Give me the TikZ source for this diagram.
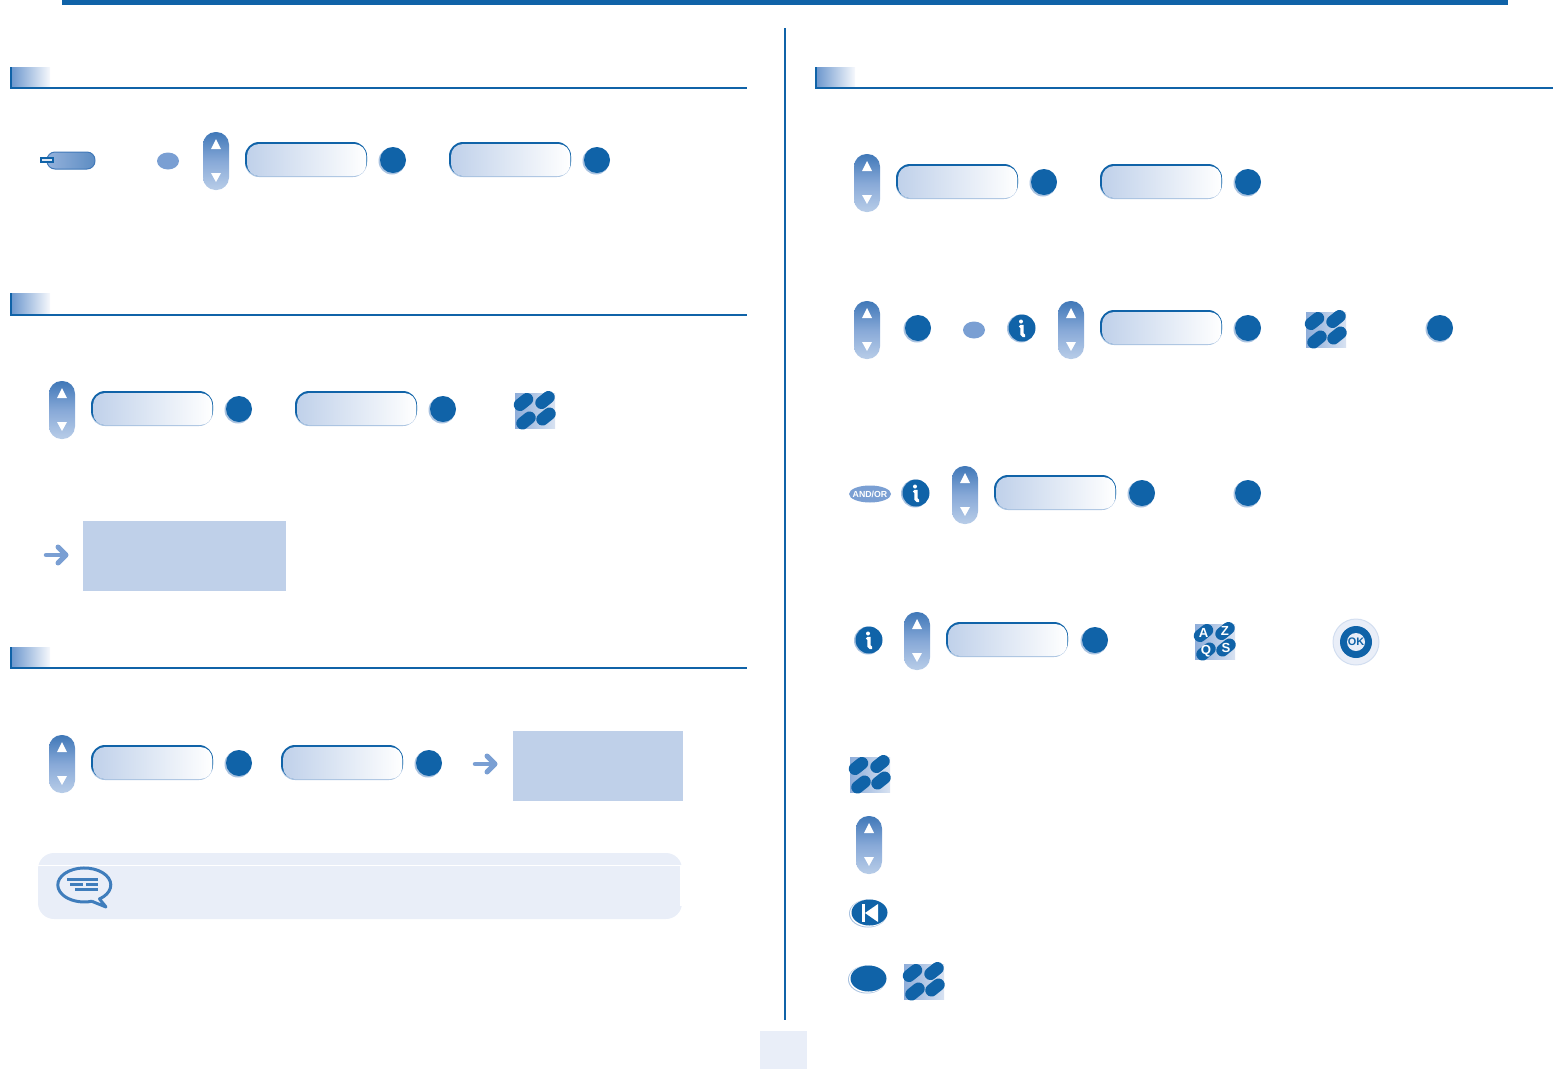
\documentclass[tikz,border=0pt]{standalone}
\usepackage{fontspec}
\setmainfont{Liberation Sans}
\definecolor{dk}{HTML}{1063A8}
\definecolor{mid}{HTML}{7A9FD3}
\definecolor{pale}{HTML}{BFD0E9}
\definecolor{note}{HTML}{E9EEF8}
\definecolor{bub}{HTML}{3F7DBC}
\definecolor{scrolltop}{HTML}{4078B8}
\definecolor{scrollbot}{HTML}{B8CDE8}
\definecolor{lbl}{HTML}{C0D1EA}
\definecolor{ltedge}{HTML}{A8C2E0}
\tikzset{
  px/.style={line width=#1*0.567pt},
  scrollicon/.pic={
    \shade[top color=scrolltop,bottom color=scrollbot,middle color=mid!90!white,rounded corners=12.5*0.02cm]
      (-13,-29) rectangle (13,29);
    \fill[white] (0,-22) -- (5,-12) -- (-5,-12) -- cycle;
    \fill[white] (0,21) -- (5,12) -- (-5,12) -- cycle;
  },
  labelbox/.pic={
    \fill[ltedge,rounded corners=14*0.02cm] (-61,-17) rectangle (61,17);
    \fill[dk,rounded corners=14*0.02cm] (-61,-18) rectangle (61,15.5);
    \shade[left color=lbl,right color=white,rounded corners=12*0.02cm] (-59,-16) rectangle (60.3,16);
  },
  okdot/.pic={
    \fill[ltedge] (-1,1) circle (13.5);
    \fill[dk] (0,0) circle (13);
  },
  keypad/.pic={
    \shade[left color=mid!85!white,right color=pale!60!white] (-20,-17) rectangle (20,18);
    \foreach \a/\b in {-11.5/-8,10/-10,-9/10.5,11/6.5}{
      \draw[dk,px=12.5,line cap=round] (\a-3.5,\b+2.8) -- (\a+3.5,\b-2.8);
    }
  },
  azkeys/.pic={
    \shade[left color=mid!85!white,right color=pale!60!white] (-20,-17) rectangle (20,18);
    \foreach \a/\b/\t in {-11.5/-8/A,10/-10/Z,-9/10.5/Q,11/6.5/S}{
      \draw[dk,px=12.5,line cap=round] (\a-3.5,\b+2.8) -- (\a+3.5,\b-2.8);
      \node[text=white,font=\bfseries\fontsize{7.5}{7.5}\selectfont,inner sep=0pt] (L\t) at (\a,\b) {\t};
    }
  },
  infoicon/.pic={
    \fill[ltedge] (-1,0.5) circle (14);
    \fill[dk] (0,0) circle (13.5);
    \fill[white] (-1,-6.5) circle (2);
    \draw[white,px=3.2,line cap=round] (-1.5,-1.5) -- (0,-1.5) -- (0,6) -- (2,8);
  },
  flecha/.pic={
    \draw[mid,px=4.5,line cap=round,line join=round] (-10,0) -- (10,0);
    \draw[mid,px=5,line cap=round,line join=round] (2,-8) -- (10,0) -- (2,8);
  },
  softkey/.pic={
    \fill[ltedge] (-1,0.5) ellipse [x radius=19,y radius=14];
    \fill[white] (-0.5,0.2) ellipse [x radius=18.5,y radius=13.5];
    \fill[dk] (0.5,-0.5) ellipse [x radius=18,y radius=13];
  },
  sectionhead/.pic={
    \fill[dk] (0,0) rectangle (2,21);
    \shade[left color=mid!90!dk,right color=note!40!white] (2,0) rectangle (40,21);
  }
}
\begin{document}
\begin{tikzpicture}[x=0.02cm,y=-0.02cm]
\useasboundingbox (0,0) rectangle (1553,1069);
% frame rules
\fill[dk] (62,0) rectangle (1508,5);
\draw[dk,px=2] (785,28) -- (785,1020);
\fill[note] (760,1031) rectangle (807,1069);
% section headers
\pic (h1) at (10,67) {sectionhead};
\draw[dk,px=2] (10,88) -- (747,88);
\pic (h2) at (10,293) {sectionhead};
\draw[dk,px=2] (10,315) -- (747,315);
\pic (h3) at (10,647) {sectionhead};
\draw[dk,px=2] (10,668) -- (747,668);
\pic (h4) at (815,67) {sectionhead};
\draw[dk,px=2] (815,88) -- (1553,88);
% row 1
\shade[left color=mid!80!white,right color=scrolltop!85!white,draw=scrolltop,px=1,rounded corners=8*0.02cm] (47,152) rectangle (95,169);
\draw[dk,fill=pale!50!white,px=1.2] (41,158) rectangle (53,162);
\fill[mid] (168,161) ellipse [x radius=11,y radius=8.5];
\pic (s1) at (216,161) {scrollicon};
\pic (b1) at (306,160) {labelbox};
\pic (d1) at (393,160) {okdot};
\pic (b2) at (510,160) {labelbox};
\pic (d2) at (597,160) {okdot};
% row 2
\pic (s2) at (62,410) {scrollicon};
\pic (b3) at (152,409) {labelbox};
\pic (d3) at (239,409) {okdot};
\pic (b4) at (356,409) {labelbox};
\pic (d4) at (443,409) {okdot};
\pic (k1) at (535,410) {keypad};
\pic (a1) at (56,555) {flecha};
\fill[pale] (83,521) rectangle (286,591);
% row 3
\pic (s3) at (62,764) {scrollicon};
\pic (b5) at (152,763) {labelbox};
\pic (d5) at (239,763) {okdot};
\pic (b6) at (342,763) {labelbox};
\pic (d6) at (429,763) {okdot};
\pic (a2) at (485,764) {flecha};
\fill[pale] (513,731) rectangle (683,801);
% note
\fill[note,rounded corners=16*0.02cm] (38,853) rectangle (682,919);
\fill[white] (38,865) rectangle (682,866);
\fill[white] (680,866) rectangle (683,906);
\draw[bub,px=3,line join=round] (91.9,901.3) -- (106,907) -- (99.5,898.9)
  arc[start angle=55,end angle=-287,x radius=26.5,y radius=17];
\draw[bub,px=3] (67,879) -- (98,879);
\draw[bub,px=3] (70,884) -- (83,884) (86,884) -- (98,884);
\draw[bub,px=3] (75,889) -- (98,889);
% right column rows
\pic (s4) at (867,183) {scrollicon};
\pic (b7) at (957,182) {labelbox};
\pic (d7) at (1044,182) {okdot};
\pic (b8) at (1161,182) {labelbox};
\pic (d8) at (1248,182) {okdot};
\pic (s5) at (867,330) {scrollicon};
\pic (d9) at (918,328) {okdot};
\fill[mid] (974,330) ellipse [x radius=11,y radius=8.5];
\pic (i1) at (1022,328) {infoicon};
\pic (s6) at (1071,330) {scrollicon};
\pic (b9) at (1161,328) {labelbox};
\pic (d10) at (1248,328) {okdot};
\pic (k2) at (1326,329) {keypad};
\pic (d11) at (1440,328) {okdot};
\fill[mid] (870,494) ellipse [x radius=21,y radius=8.5];
\node[text=white,font=\bfseries\fontsize{5}{5}\selectfont,inner sep=0pt] (andor) at (870,494) {AND/OR};
\pic (i2) at (916,493) {infoicon};
\pic (s7) at (965,495) {scrollicon};
\pic (b10) at (1055,493) {labelbox};
\pic (d12) at (1142,493) {okdot};
\pic (d13) at (1248,493) {okdot};
\pic (i3) at (869,640) {infoicon};
\pic (s8) at (917,641) {scrollicon};
\pic (b11) at (1007,640) {labelbox};
\pic (d14) at (1095,640) {okdot};
\pic (az) at (1215,641) {azkeys};
\fill[note,draw=pale!70!white,px=1] (1356,642) circle (23);
\fill[dk] (1356,642) circle (16);
\fill[note] (1356,642) circle (9);
\node[text=dk,font=\bfseries\fontsize{6.2}{6.2}\selectfont,inner sep=0pt] (ok) at (1356,642) {OK};
% legend
\pic (k3) at (870,774) {keypad};
\pic (s9) at (869,845) {scrollicon};
\pic (sk1) at (869,913) {softkey};
\fill[white] (862,904) rectangle (864.5,922);
\fill[white] (878,904) -- (878,922) -- (865,913) -- cycle;
\pic (sk2) at (868,979) {softkey};
\pic (k4) at (924,981) {keypad};
\end{tikzpicture}
\end{document}
